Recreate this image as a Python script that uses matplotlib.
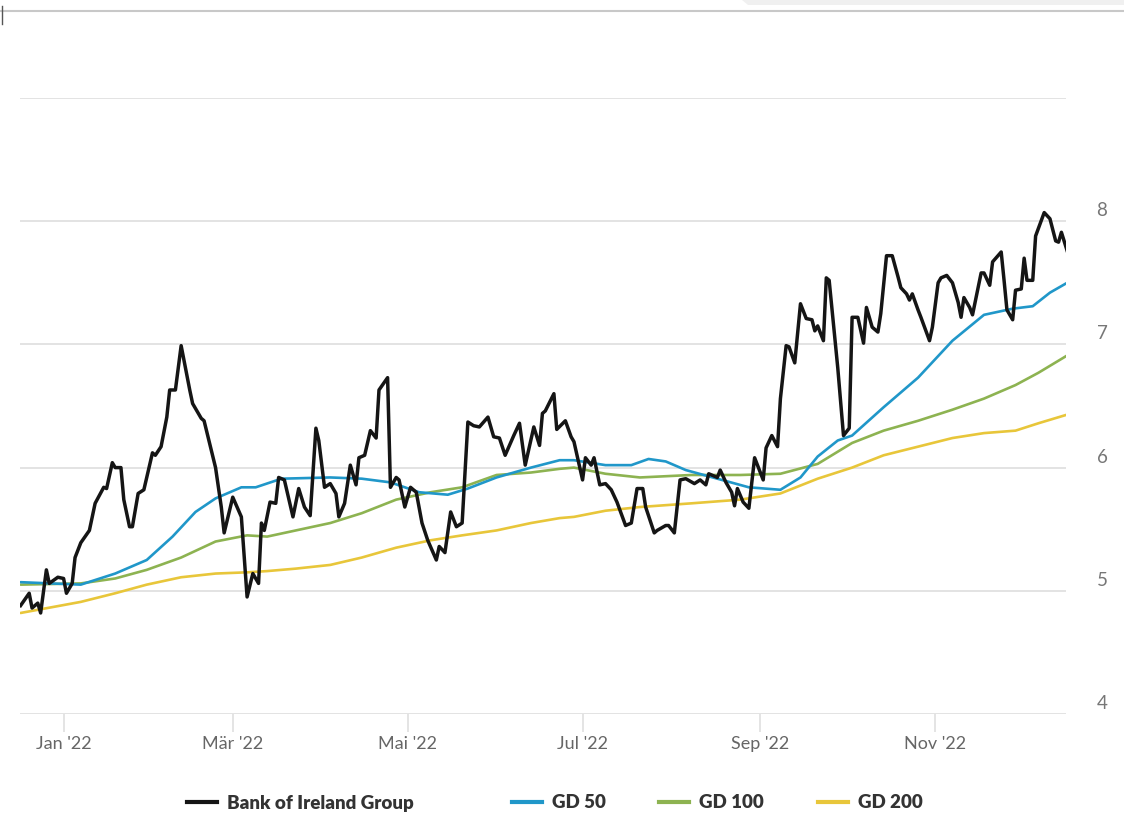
import matplotlib
matplotlib.use('Agg')
import matplotlib.pyplot as plt
import matplotlib.transforms as mtransforms
from matplotlib.lines import Line2D
from matplotlib.patches import Polygon
import pandas as pd

# %% DATA  (days counted from 2022-01-01, prices in EUR)
start = pd.Timestamp('2022-01-01')

price_days = [
    -15, -12, -11, -9, -8, -6, -5, -2, 0, 1,
    3, 4, 6, 9, 11, 14, 15, 17, 18, 20,
    21, 23, 24, 26, 28, 31, 32, 34, 36, 37,
    39, 41, 44, 45, 48, 49, 53, 55, 56, 59,
    62, 64, 66, 68, 69, 70, 72, 74, 75, 77,
    80, 82, 84, 86, 88, 89, 91, 93, 95, 96,
    98, 100, 102, 103, 105, 107, 109, 110, 113, 114,
    116, 117, 119, 121, 123, 125, 127, 130, 131, 133,
    135, 137, 139, 141, 143, 145, 148, 150, 152, 154,
    157, 159, 161, 164, 166, 167, 168, 171, 172, 175,
    177, 178, 181, 182, 184, 185, 187, 189, 191, 193,
    196, 198, 200, 202, 203, 206, 207, 210, 211, 213,
    215, 217, 220, 222, 224, 225, 228, 229, 231, 233,
    234, 235, 237, 239, 241, 244, 245, 247, 249, 250,
    252, 253, 255, 257, 259, 261, 262, 263, 265, 266,
    267, 270, 272, 274, 275, 277, 279, 280, 282, 284,
    285, 287, 289, 291, 292, 294, 295, 296, 298, 299,
    302, 303, 305, 306, 308, 310, 312, 313, 314, 316,
    317, 320, 321, 323, 324, 327, 328, 329, 331, 332,
    334, 335, 336, 338, 339, 342, 344, 346, 347, 348,
    350,
]
price = [
    4.88, 4.98, 4.86, 4.90, 4.82, 5.17, 5.06, 5.11, 5.10, 4.98,
    5.06, 5.27, 5.39, 5.49, 5.71, 5.84, 5.83, 6.04, 6.00, 6.00,
    5.74, 5.52, 5.52, 5.79, 5.82, 6.12, 6.10, 6.17, 6.41, 6.63,
    6.63, 6.99, 6.63, 6.52, 6.40, 6.38, 6.00, 5.68, 5.47, 5.76,
    5.60, 4.95, 5.14, 5.06, 5.55, 5.49, 5.72, 5.71, 5.92, 5.90,
    5.60, 5.83, 5.68, 5.61, 6.32, 6.22, 5.84, 5.87, 5.79, 5.60,
    5.71, 6.02, 5.86, 6.08, 6.10, 6.30, 6.24, 6.63, 6.73, 5.84,
    5.92, 5.90, 5.68, 5.84, 5.80, 5.55, 5.41, 5.25, 5.36, 5.31,
    5.64, 5.52, 5.55, 6.37, 6.34, 6.33, 6.41, 6.25, 6.24, 6.10,
    6.26, 6.36, 6.02, 6.33, 6.18, 6.44, 6.46, 6.60, 6.31, 6.38,
    6.25, 6.21, 5.90, 6.08, 6.02, 6.08, 5.86, 5.87, 5.82, 5.72,
    5.53, 5.55, 5.83, 5.83, 5.68, 5.47, 5.49, 5.53, 5.53, 5.47,
    5.90, 5.91, 5.87, 5.90, 5.86, 5.95, 5.92, 5.98, 5.88, 5.80,
    5.69, 5.83, 5.72, 5.67, 6.08, 5.90, 6.16, 6.26, 6.17, 6.56,
    6.99, 6.98, 6.85, 7.33, 7.21, 7.20, 7.11, 7.15, 7.03, 7.54,
    7.52, 6.81, 6.26, 6.32, 7.22, 7.22, 7.01, 7.30, 7.14, 7.10,
    7.25, 7.72, 7.72, 7.55, 7.46, 7.41, 7.36, 7.41, 7.28, 7.22,
    7.03, 7.14, 7.50, 7.54, 7.56, 7.50, 7.34, 7.22, 7.38, 7.30,
    7.24, 7.58, 7.58, 7.48, 7.67, 7.75, 7.52, 7.28, 7.20, 7.44,
    7.45, 7.70, 7.52, 7.52, 7.88, 8.07, 8.02, 7.84, 7.83, 7.91,
    7.76,
]

gd50_days = [-15, 6, 18, 29, 38, 46, 53, 62, 67, 76,
             93, 104, 114, 124, 134, 141, 151, 163, 173, 178,
             189, 198, 204, 210, 217, 228, 239, 250, 257, 263,
             270, 275, 286, 298, 310, 321, 331, 338, 344, 350]
gd50 = [5.07, 5.05, 5.14, 5.25, 5.44, 5.64, 5.75, 5.84, 5.84, 5.91,
        5.92, 5.91, 5.88, 5.80, 5.78, 5.83, 5.92, 6.00, 6.06, 6.06,
        6.02, 6.02, 6.07, 6.05, 5.98, 5.91, 5.84, 5.82, 5.92, 6.09,
        6.22, 6.26, 6.49, 6.73, 7.03, 7.24, 7.29, 7.31, 7.42, 7.50]

gd_long_days = [-15, 6, 18, 29, 41, 53, 64, 71, 81, 93,
                104, 116, 128, 139, 151, 163, 173, 178, 189, 201,
                219, 236, 250, 263, 275, 286, 298, 310, 321, 332,
                340, 350]
gd100 = [5.05, 5.06, 5.10, 5.17, 5.27, 5.40, 5.45, 5.44, 5.49, 5.55,
         5.63, 5.74, 5.80, 5.84, 5.94, 5.96, 5.99, 6.00, 5.95, 5.92,
         5.94, 5.94, 5.95, 6.03, 6.20, 6.30, 6.38, 6.47, 6.56, 6.67,
         6.77, 6.91]
gd200 = [4.82, 4.91, 4.98, 5.05, 5.11, 5.14, 5.15, 5.16, 5.18, 5.21,
         5.27, 5.35, 5.41, 5.45, 5.49, 5.55, 5.59, 5.60, 5.65, 5.68,
         5.71, 5.74, 5.79, 5.91, 6.00, 6.10, 6.17, 6.24, 6.28, 6.30,
         6.36, 6.43]

tick_dates = ['2022-01-01', '2022-03-01', '2022-05-01', '2022-07-01', '2022-09-01', '2022-11-01']
tick_labels = ["Jan '22", "Mär '22", "Mai '22", "Jul '22", "Sep '22", "Nov '22"]
y_ticks = [4, 5, 6, 7, 8, 9]
y_labels = ['4', '5', '6', '7', '8', '']

series_names = ['Bank of Ireland Group', 'GD 50', 'GD 100', 'GD 200']
colors = ['#151515', '#2097c9', '#8db351', '#e8c63a']


def to_dates(days):
    return start + pd.to_timedelta(days, unit='D')


# %% PLOT
plt.rcParams['font.family'] = ['Lato', 'DejaVu Sans']

W, H = 1124, 827
fig = plt.figure(figsize=(W / 100, H / 100), dpi=100)
ax = fig.add_axes([20 / W, 1 - 714 / H, 1046 / W, 616 / H])

ax.plot(to_dates(gd_long_days), gd200, color=colors[3], lw=1.9, solid_capstyle='round')
ax.plot(to_dates(gd_long_days), gd100, color=colors[2], lw=1.9, solid_capstyle='round')
ax.plot(to_dates(gd50_days), gd50, color=colors[1], lw=1.9, solid_capstyle='round')
ax.plot(to_dates(price_days), price, color=colors[0], lw=2.5, solid_joinstyle='round')

ax.set_ylim(4, 9)
ax.set_xlim(start + pd.Timedelta(days=-15.2), start + pd.Timedelta(days=349.6))

for s in ax.spines.values():
    s.set_visible(False)

ax.set_yticks(y_ticks)
ax.set_yticklabels(y_labels)
ax.yaxis.tick_right()
ax.grid(axis='y', color='#e3e3e3', lw=1.4)
ax.set_axisbelow(True)
ax.tick_params(axis='y', length=0, pad=22, labelsize=13.5, labelcolor='#777777')
offset = mtransforms.ScaledTranslation(0, 1.5 / 72, fig.dpi_scale_trans)
for lab in ax.get_yticklabels():
    lab.set_verticalalignment('bottom')
    lab.set_transform(lab.get_transform() + offset)

ax.set_xticks(pd.to_datetime(tick_dates))
ax.set_xticklabels(tick_labels)
ax.tick_params(axis='x', length=13, width=1.1, color='#dddddd', pad=3,
               labelsize=13, labelcolor='#666666')

# legend, one entry at a time so the gaps match
legend_x = [187, 512, 659, 818]
for name, col, lx in zip(series_names, colors, legend_x):
    h = Line2D([], [], color=col, lw=3)
    leg = fig.legend(handles=[h], labels=[name], loc='center left',
                     bbox_to_anchor=(lx / W, 1 - 803 / H), frameon=False,
                     handlelength=1.6, handletextpad=0.55, borderpad=0, borderaxespad=0,
                     prop={'size': 13.5, 'weight': 'heavy'})
    for t in leg.get_texts():
        t.set_color('#333333')

# browser strip at the very top
fig.add_artist(Line2D([0, 1], [1 - 11 / H] * 2, transform=fig.transFigure, color='#c8c8c8', lw=1.5))
fig.add_artist(Polygon([(742 / W, 1), (748 / W, 1 - 5 / H), (1, 1 - 5 / H), (1, 1)],
                       closed=True, transform=fig.transFigure, color='#f0f0f0', lw=0))
fig.add_artist(Line2D([1.5 / W] * 2, [1 - 6 / H, 1 - 24 / H], transform=fig.transFigure, color='#555555', lw=1))

fig.savefig('out.png', dpi=100)
